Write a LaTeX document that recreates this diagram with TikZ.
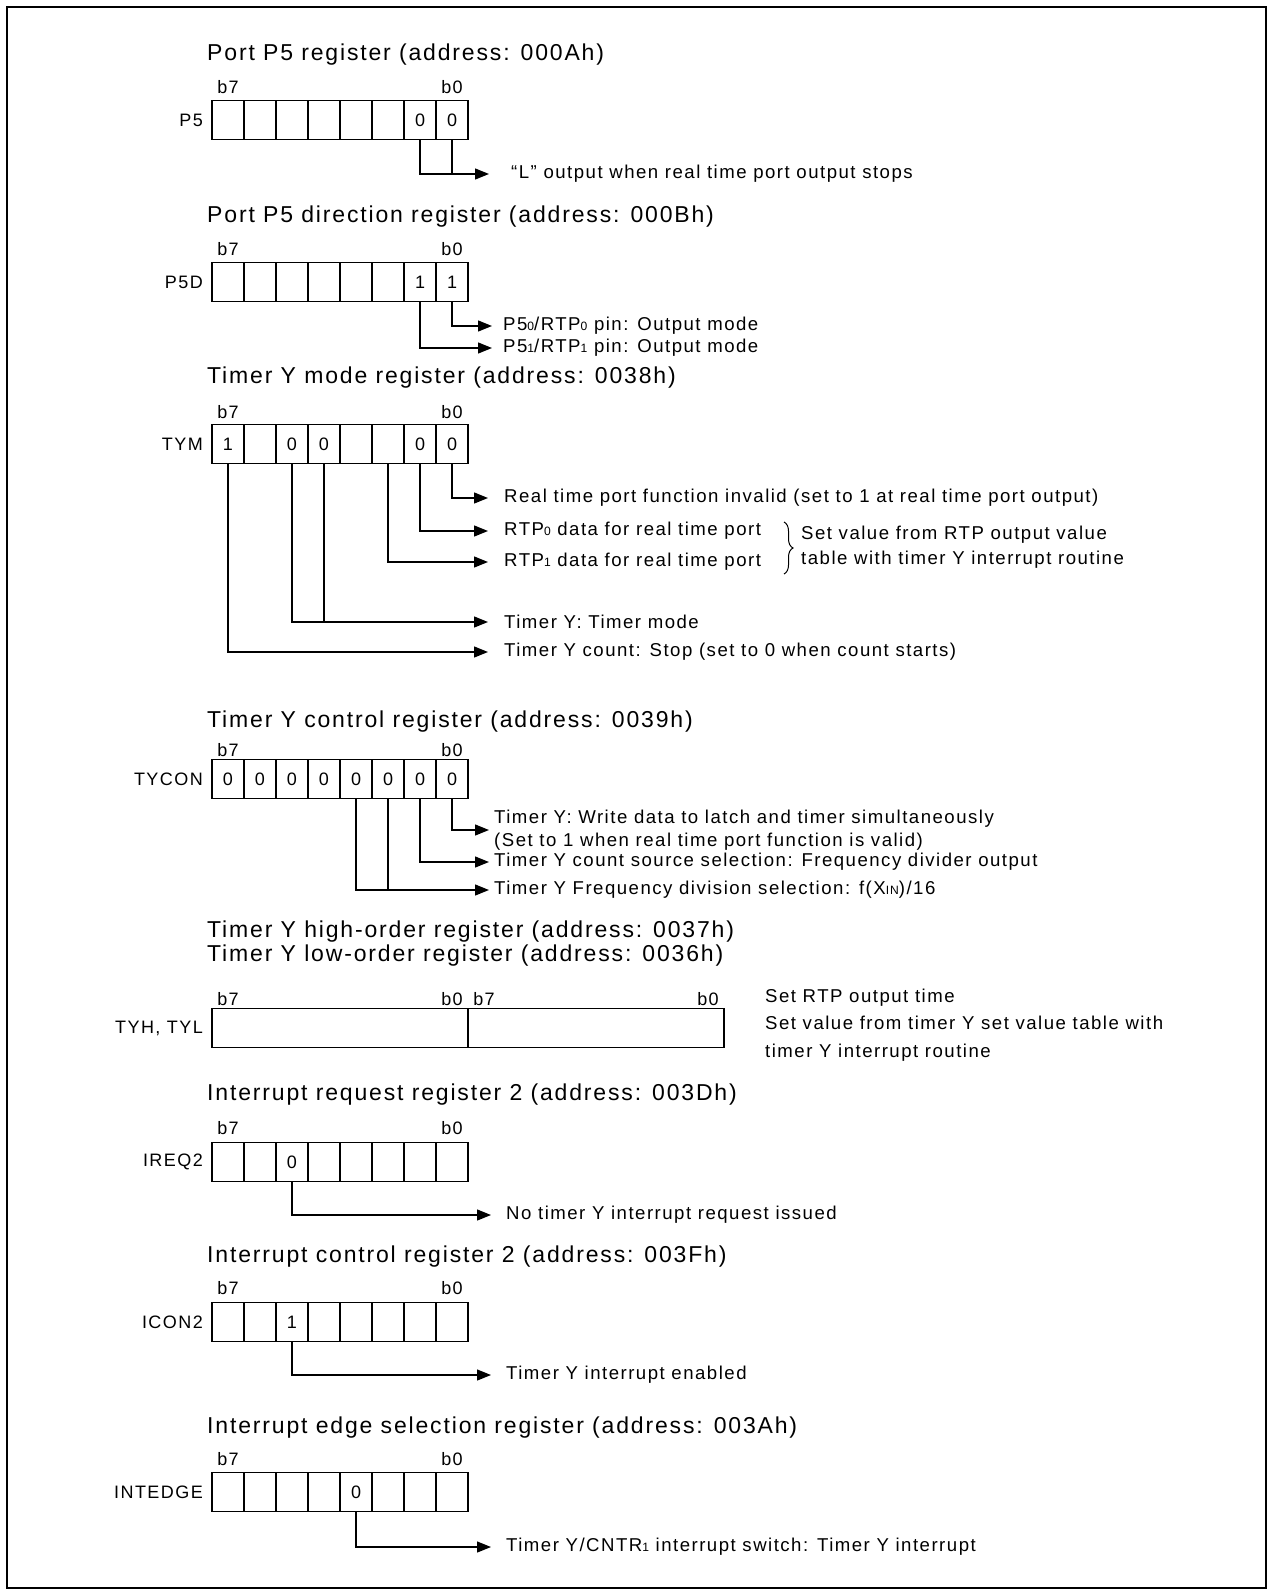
\documentclass[tikz,border=0pt]{standalone}
\usepackage{fontspec}
\setmainfont{Liberation Sans}[LetterSpace=8]
\usetikzlibrary{arrows.meta,decorations.pathreplacing}
\newcommand\lowidx[1]{\scalebox{0.65}{#1}}
\tikzset{
  bit/.style={draw, line width=1.3pt, minimum width=32pt, minimum height=39pt, inner sep=0pt, font=\fontsize{18}{20}\selectfont},
  wordbox/.style={draw, line width=1.3pt, minimum width=256pt, minimum height=39pt, inner sep=0pt},
  regtitle/.style={anchor=west, inner sep=0pt, font=\fontsize{23}{27}\selectfont},
  regname/.style={anchor=east, inner sep=0pt, font=\fontsize{18}{20}\selectfont},
  bitno/.style={inner sep=0pt, font=\fontsize{18}{20}\selectfont},
  note/.style={anchor=west, inner sep=0pt, align=left, font=\fontsize{18.6}{23}\selectfont},
  wire/.style={line width=1.3pt},
  arr/.style={wire, -{Triangle[length=14pt,width=11pt]}},
}
\begin{document}
\begin{tikzpicture}[x=1pt,y=-1pt]
  \useasboundingbox (0,0) rectangle (1268,1594);
  \draw[line width=2pt] (7,7) rectangle (1266,1588);

  \node[regtitle] (p5title) at (207,55) {Port P5 register (address: 000Ah)};
  \node[bitno] (p5b7) at (228,87) {b7};
  \node[bitno] (p5b0) at (452,87) {b0};
  \node[regname] (p5name) at (203,120) {P5};
  \foreach \v [count=\i from 0] in {{},{},{},{},{},{},0,0}
    \node[bit] (p5-\i) at ({228+32*\i},120) {\v};
  \node[note] (p5note) at (511,174) {“L” output when real time port output stops};
  \draw[arr, shorten >=22pt] (p5-7.south) |- (p5note.west);
  \draw[wire] (p5-6.south) |- (p5-7 |- p5note.west);

  \node[regtitle] (p5dtitle) at (207,217) {Port P5 direction register (address: 000Bh)};
  \node[bitno] (p5db7) at (228,249) {b7};
  \node[bitno] (p5db0) at (452,249) {b0};
  \node[regname] (p5dname) at (203,282) {P5D};
  \foreach \v [count=\i from 0] in {{},{},{},{},{},{},1,1}
    \node[bit] (p5d-\i) at ({228+32*\i},282) {\v};
  \node[note] (p5dnote0) at (503,326) {P5\lowidx{0}/RTP\lowidx{0} pin: Output mode};
  \node[note] (p5dnote1) at (503,348) {P5\lowidx{1}/RTP\lowidx{1} pin: Output mode};
  \draw[arr, shorten >=11pt] (p5d-7.south) |- (p5dnote0.west);
  \draw[arr, shorten >=11pt] (p5d-6.south) |- (p5dnote1.west);

  \node[regtitle] (tymtitle) at (207,378) {Timer Y mode register (address: 0038h)};
  \node[bitno] (tymb7) at (228,412) {b7};
  \node[bitno] (tymb0) at (452,412) {b0};
  \node[regname] (tymname) at (203,444) {TYM};
  \foreach \v [count=\i from 0] in {1,{},0,0,{},{},0,0}
    \node[bit] (tym-\i) at ({228+32*\i},444) {\v};
  \node[note] (tymnote0) at (504,498) {Real time port function invalid (set to 1 at real time port output)};
  \node[note] (tymnote1) at (504,531) {RTP\lowidx{0} data for real time port};
  \node[note] (tymnote2) at (504,562) {RTP\lowidx{1} data for real time port};
  \node[note] (tymnote3) at (504,622) {Timer Y: Timer mode};
  \node[note] (tymnote4) at (504,652) {Timer Y count: Stop (set to 0 when count starts)};
  \node[note, font=\fontsize{18.6}{25}\selectfont] (tymgroup) at (801,547) {Set value from RTP output value\\table with timer Y interrupt routine};
  \draw[arr, shorten >=16pt] (tym-7.south) |- (tymnote0.west);
  \draw[arr, shorten >=16pt] (tym-6.south) |- (tymnote1.west);
  \draw[arr, shorten >=16pt] (tym-5.south) |- (tymnote2.west);
  \draw[arr, shorten >=16pt] (tym-2.south) |- (tymnote3.west);
  \draw[wire] (tym-3.south) -- (tym-3 |- tymnote3.west);
  \draw[arr, shorten >=16pt] (tym-0.south) |- (tymnote4.west);
  \coordinate (bracetop) at (784,522);
  \coordinate (bracebot) at (784,574);
  \draw[line width=1pt, decorate, decoration={brace, amplitude=9pt}] (bracetop) -- (bracebot);

  \node[regtitle] (tycontitle) at (207,722) {Timer Y control register (address: 0039h)};
  \node[bitno] (tyconb7) at (228,750) {b7};
  \node[bitno] (tyconb0) at (452,750) {b0};
  \node[regname] (tyconname) at (203,779) {TYCON};
  \foreach \v [count=\i from 0] in {0,0,0,0,0,0,0,0}
    \node[bit] (tycon-\i) at ({228+32*\i},779) {\v};
  \node[note] (tyconnote0) at (494,830) {Timer Y: Write data to latch and timer simultaneously\\(Set to 1 when real time port function is valid)};
  \node[note] (tyconnote1) at (494,862) {Timer Y count source selection: Frequency divider output};
  \node[note] (tyconnote2) at (494,890) {Timer Y Frequency division selection: f(X\lowidx{IN})/16};
  \draw[arr, shorten >=5pt] (tycon-7.south) |- (tyconnote0.west);
  \draw[arr, shorten >=5pt] (tycon-6.south) |- (tyconnote1.west);
  \draw[arr, shorten >=5pt] (tycon-4.south) |- (tyconnote2.west);
  \draw[wire] (tycon-5.south) -- (tycon-5 |- tyconnote2.west);

  \node[regtitle] (tyhtitle) at (207,932) {Timer Y high-order register (address: 0037h)};
  \node[regtitle] (tyltitle) at (207,956) {Timer Y low-order register (address: 0036h)};
  \node[bitno] (tyhb7) at (228,999) {b7};
  \node[bitno] (tyhb0) at (452,999) {b0};
  \node[bitno] (tylb7) at (484,999) {b7};
  \node[bitno] (tylb0) at (708,999) {b0};
  \node[regname] (tyhname) at (203,1028) {TYH, TYL};
  \node[wordbox] (tyh) at (340,1028) {};
  \node[wordbox] (tyl) at (596,1028) {};
  \node[note, font=\fontsize{18.6}{27.5}\selectfont] (tyhnote) at (765,1025) {Set RTP output time\\Set value from timer Y set value table with\\timer Y interrupt routine};

  \node[regtitle] (ireqtitle) at (207,1095) {Interrupt request register 2 (address: 003Dh)};
  \node[bitno] (ireqb7) at (228,1128) {b7};
  \node[bitno] (ireqb0) at (452,1128) {b0};
  \node[regname] (ireqname) at (203,1162) {IREQ2};
  \foreach \v [count=\i from 0] in {{},{},0,{},{},{},{},{}}
    \node[bit] (ireq-\i) at ({228+32*\i},1162) {\v};
  \node[note] (ireqnote) at (506,1215) {No timer Y interrupt request issued};
  \draw[arr, shorten >=15pt] (ireq-2.south) |- (ireqnote.west);

  \node[regtitle] (icontitle) at (207,1257) {Interrupt control register 2 (address: 003Fh)};
  \node[bitno] (iconb7) at (228,1288) {b7};
  \node[bitno] (iconb0) at (452,1288) {b0};
  \node[regname] (iconname) at (203,1322) {ICON2};
  \foreach \v [count=\i from 0] in {{},{},1,{},{},{},{},{}}
    \node[bit] (icon-\i) at ({228+32*\i},1322) {\v};
  \node[note] (iconnote) at (506,1375) {Timer Y interrupt enabled};
  \draw[arr, shorten >=15pt] (icon-2.south) |- (iconnote.west);

  \node[regtitle] (edgetitle) at (207,1428) {Interrupt edge selection register (address: 003Ah)};
  \node[bitno] (edgeb7) at (228,1459) {b7};
  \node[bitno] (edgeb0) at (452,1459) {b0};
  \node[regname] (edgename) at (203,1492) {INTEDGE};
  \foreach \v [count=\i from 0] in {{},{},{},{},0,{},{},{}}
    \node[bit] (edge-\i) at ({228+32*\i},1492) {\v};
  \node[note] (edgenote) at (506,1547) {Timer Y/CNTR\lowidx{1} interrupt switch: Timer Y interrupt};
  \draw[arr, shorten >=15pt] (edge-4.south) |- (edgenote.west);
\end{tikzpicture}
\end{document}
